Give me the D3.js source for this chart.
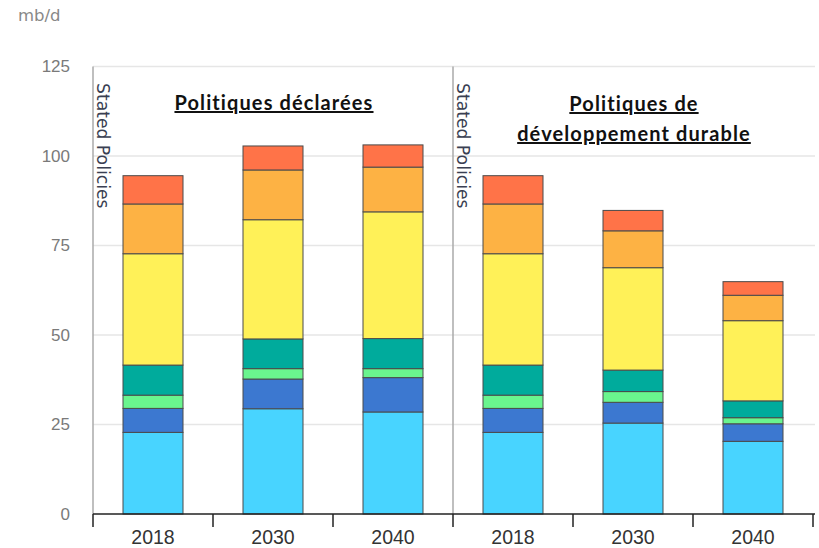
<!DOCTYPE html>
<html>
<head>
<meta charset="utf-8">
<script src="https://cdn.jsdelivr.net/npm/d3@7"></script>
<style>
  html, body { margin: 0; padding: 0; background: #fff; }
  svg { display: block; }
</style>
</head>
<body>
<svg id="chart" width="819" height="548"></svg>
<script>
// ---- Data ----
const years = ["2018", "2030", "2040", "2018", "2030", "2040"];
const scenarios = ["Stated Policies", "Stated Policies", "Stated Policies",
                   "Sustainable Development", "Sustainable Development", "Sustainable Development"];
const yTicks = [0, 25, 50, 75, 100, 125];
const unitLabel = "mb/d";
const panelLabel = "Stated Policies";
const titleLeft = ["Politiques déclarées"];
const titleRight = ["Politiques de", "développement durable"];

// stacked layers, bottom to top
const layer1 = [22.8, 29.4, 28.5, 22.8, 25.4, 20.3];
const layer2 = [6.7, 8.3, 9.6, 6.7, 5.8, 4.9];
const layer3 = [3.7, 2.9, 2.5, 3.7, 3.0, 1.7];
const layer4 = [8.4, 8.3, 8.4, 8.4, 6.0, 4.7];
const layer5 = [31.1, 33.3, 35.4, 31.1, 28.6, 22.4];
const layer6 = [13.9, 13.9, 12.5, 13.9, 10.3, 7.1];
const layer7 = [7.9, 6.7, 6.2, 7.9, 5.7, 3.8];
const layerNames = ["layer1", "layer2", "layer3", "layer4", "layer5", "layer6", "layer7"];
const layerColors = ["#48D4FF", "#3C78D0", "#6AF58E", "#00AB9C", "#FFF158", "#FDB244", "#FF7348"];

// ---- Build table ----
const layers = [layer1, layer2, layer3, layer4, layer5, layer6, layer7];
const table = years.map((yr, i) => {
  const row = { key: i, year: yr, scenario: scenarios[i] };
  layerNames.forEach((n, j) => row[n] = layers[j][i]);
  return row;
});

const svg = d3.select("#chart");
const pLeft = 93, pRight = 813, pTop = 66.5, pBottom = 514;

const x = d3.scaleBand()
  .domain(table.map(d => d.key))
  .range([pLeft, pRight])
  .paddingInner(0.5)
  .paddingOuter(0.25);
const y = d3.scaleLinear().domain([0, 125]).range([pBottom, pTop]);

// grid lines
svg.append("g").selectAll("line")
  .data(yTicks.filter(t => t > 0))
  .join("line")
  .attr("x1", pLeft).attr("x2", pRight + 2)
  .attr("y1", d => y(d)).attr("y2", d => y(d))
  .attr("stroke", "#e6e6e6").attr("stroke-width", 1.5);

// y tick labels
svg.append("g").selectAll("text")
  .data(yTicks)
  .join("text")
  .attr("x", 70).attr("y", d => y(d))
  .attr("dy", "0.35em")
  .attr("text-anchor", "end")
  .attr("font-family", "'Liberation Sans', Arial, sans-serif")
  .attr("font-size", 17)
  .attr("fill", "#7a7a7a")
  .text(d => d);

// unit label
svg.append("text")
  .attr("x", 18).attr("y", 21)
  .attr("font-family", "'DejaVu Sans', sans-serif")
  .attr("font-size", 16.5)
  .attr("fill", "#888")
  .text(unitLabel);

// panel separators (left edge and divider)
const groupStarts = [0, 3];
svg.append("g").selectAll("line")
  .data(groupStarts)
  .join("line")
  .attr("x1", d => x(d) - x.step() * x.paddingOuter())
  .attr("x2", d => x(d) - x.step() * x.paddingOuter())
  .attr("y1", y(125)).attr("y2", pBottom)
  .attr("stroke", "#aaa").attr("stroke-width", 1.5);

// panel labels rotated
svg.append("g").selectAll("text")
  .data(groupStarts)
  .join("text")
  .attr("transform", d => `translate(${x(d) - x.step() * x.paddingOuter() + 4},83) rotate(90)`)
  .attr("font-family", "'DejaVu Sans', sans-serif")
  .attr("font-size", 17.2)
  .attr("fill", "#3a3f52")
  .text(panelLabel);

// stacked bars
const stack = d3.stack().keys(layerNames);
const series = stack(table);
svg.append("g").selectAll("g")
  .data(series)
  .join("g")
  .attr("fill", (d, i) => layerColors[i])
  .selectAll("rect")
  .data(d => d)
  .join("rect")
  .attr("x", d => x(d.data.key))
  .attr("width", x.bandwidth())
  .attr("y", d => y(d[1]))
  .attr("height", d => y(d[0]) - y(d[1]))
  .attr("stroke", "#4a4a4a")
  .attr("stroke-width", 1);

// x axis
const xAxisG = svg.append("g");
xAxisG.append("line")
  .attr("x1", pLeft).attr("x2", pRight + 2)
  .attr("y1", pBottom).attr("y2", pBottom)
  .attr("stroke", "#222").attr("stroke-width", 1.5);
const tickPositions = table.map(d => x(d.key) - x.step() * x.paddingOuter()).concat([pRight]);
xAxisG.selectAll("line.tick")
  .data(tickPositions)
  .join("line")
  .attr("class", "tick")
  .attr("x1", d => d).attr("x2", d => d)
  .attr("y1", pBottom).attr("y2", pBottom + 13)
  .attr("stroke", "#222").attr("stroke-width", 1.5);
xAxisG.selectAll("text")
  .data(table)
  .join("text")
  .attr("x", d => x(d.key) + x.bandwidth() / 2)
  .attr("y", 544)
  .attr("text-anchor", "middle")
  .attr("font-family", "'Liberation Sans', Arial, sans-serif")
  .attr("font-size", 19.5)
  .attr("fill", "#333")
  .text(d => d.year);

// titles
function title(lines, cx, y0) {
  svg.append("g").selectAll("text")
    .data(lines)
    .join("text")
    .attr("x", cx)
    .attr("y", (d, i) => y0 + i * 30)
    .attr("text-anchor", "middle")
    .attr("font-family", "Lato, sans-serif")
    .attr("font-weight", "bold")
    .attr("font-size", 20)
    .attr("letter-spacing", 1.1)
    .attr("fill", "#111")
    .style("text-decoration", "underline")
    .text(d => d);
}
title(titleLeft, (x(0) + x(2) + x.bandwidth()) / 2 + 1, 110);
title(titleRight, (x(3) + x(5) + x.bandwidth()) / 2 + 1, 111);
</script>
</body>
</html>
